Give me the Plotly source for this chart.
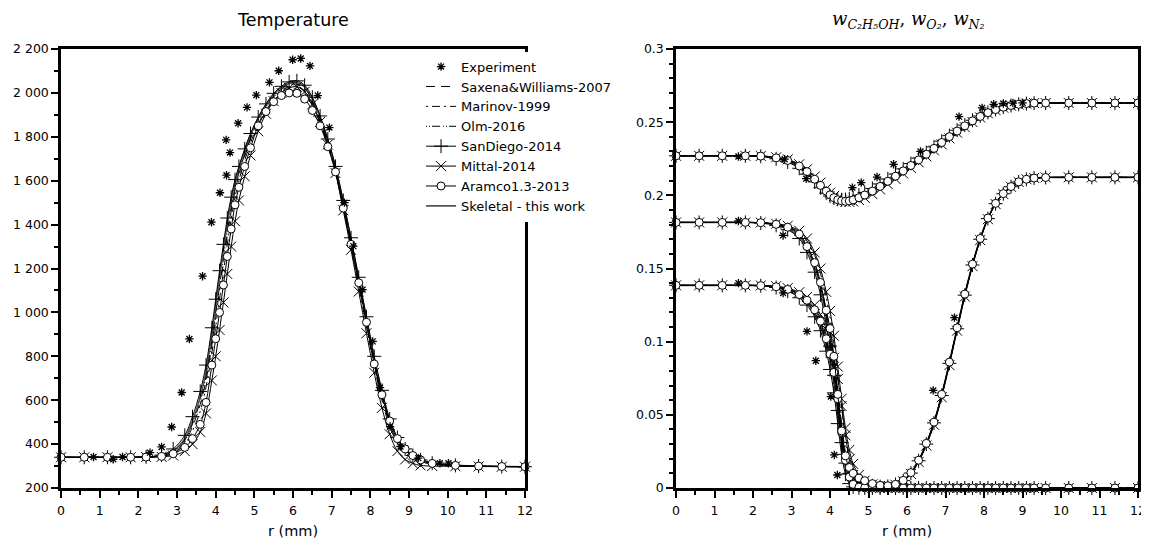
import plotly.graph_objects as go

# radial grid of the simulations (mm)
R = [0, 0.6, 1.2, 1.8, 2.2, 2.6, 2.9, 3.2, 3.4, 3.6,
     3.75, 3.9, 4.0, 4.1, 4.2, 4.3, 4.4, 4.5, 4.6, 4.75,
     4.9, 5.1, 5.3, 5.5, 5.7, 5.9, 6.1, 6.3, 6.5, 6.7,
     6.9, 7.1, 7.3, 7.5, 7.7, 7.9, 8.1, 8.3, 8.5, 8.7,
     8.9, 9.1, 9.3, 9.6, 10.2, 10.8, 11.4, 12]

# temperature (K)
T_saxena = [340, 340, 340, 340, 341, 346, 365, 410, 480, 580, 690, 850, 975, 1100, 1225, 1350, 1460, 1555, 1625, 1712,
            1790, 1872, 1935, 1985, 2018, 2037, 2040, 2020, 1965, 1882, 1778, 1652, 1492, 1320, 1140, 960, 780, 625, 500, 420,
            372, 344, 326, 311, 302, 300, 298, 297]
T_marinov = [340, 340, 340, 340, 341, 345, 360, 398, 460, 550, 660, 815, 935, 1060, 1185, 1310, 1425, 1525, 1600, 1692,
             1772, 1858, 1920, 1968, 1999, 2015, 2017, 1996, 1942, 1862, 1760, 1636, 1476, 1300, 1118, 935, 755, 600, 480, 405,
             362, 338, 322, 309, 301, 299, 298, 297]
T_olm = [340, 340, 340, 340, 341, 347, 368, 418, 492, 595, 710, 870, 995, 1120, 1245, 1368, 1475, 1565, 1635, 1720,
         1795, 1875, 1935, 1982, 2012, 2028, 2030, 2010, 1956, 1874, 1770, 1645, 1485, 1312, 1130, 948, 768, 612, 490, 412,
         367, 341, 324, 310, 302, 300, 298, 297]
T_sandiego = [340, 340, 340, 340, 342, 350, 378, 440, 525, 640, 760, 930, 1060, 1190, 1310, 1430, 1525, 1605, 1665, 1745,
              1815, 1890, 1950, 1998, 2030, 2050, 2055, 2035, 1980, 1895, 1790, 1665, 1510, 1340, 1160, 980, 800, 645, 515, 430,
              378, 348, 328, 313, 303, 300, 298, 297]
T_mittal = [340, 340, 340, 340, 341, 342, 348, 368, 400, 455, 540, 690, 800, 920, 1045, 1175, 1300, 1415, 1510, 1620,
            1715, 1825, 1905, 1962, 2000, 2022, 2028, 2005, 1948, 1868, 1765, 1635, 1465, 1285, 1095, 905, 725, 565, 445, 368,
            330, 312, 303, 300, 299, 298, 297, 297]
T_aramco = [340, 340, 340, 340, 341, 344, 356, 385, 425, 490, 590, 760, 880, 1000, 1125, 1255, 1380, 1490, 1570, 1665,
            1750, 1850, 1915, 1960, 1988, 2000, 1998, 1972, 1920, 1850, 1755, 1640, 1475, 1310, 1135, 955, 765, 625, 505, 425,
            378, 348, 328, 312, 303, 300, 298, 297]
T_skeletal = [340, 340, 340, 340, 341, 348, 370, 425, 505, 615, 730, 900, 1030, 1160, 1285, 1405, 1505, 1590, 1655, 1738,
              1808, 1885, 1945, 1993, 2025, 2043, 2047, 2027, 1973, 1890, 1785, 1660, 1500, 1330, 1150, 970, 790, 635, 508, 425,
              375, 346, 327, 312, 303, 300, 298, 297]

# ethanol mass fraction
F_saxena = [0.1385, 0.1385, 0.1385, 0.1385, 0.1383, 0.1373, 0.1352, 0.1315, 0.1272, 0.1200,
            0.1118, 0.0995, 0.0885, 0.0750, 0.0560, 0.0335, 0.0160, 0.0060, 0.0018, 0.0004,
            0, 0, 0, 0, 0, 0, 0, 0, 0, 0, 0, 0, 0, 0, 0, 0, 0, 0, 0, 0, 0, 0, 0, 0, 0, 0, 0, 0]
F_marinov = [0.1385, 0.1385, 0.1385, 0.1385, 0.1383, 0.1376, 0.1360, 0.1328, 0.1292, 0.1230,
             0.1158, 0.1048, 0.0950, 0.0830, 0.0655, 0.0440, 0.0240, 0.0105, 0.0038, 0.0009,
             0.0002, 0, 0, 0, 0, 0, 0, 0, 0, 0, 0, 0, 0, 0, 0, 0, 0, 0, 0, 0, 0, 0, 0, 0, 0, 0, 0, 0]
F_olm = [0.1385, 0.1385, 0.1385, 0.1385, 0.1383, 0.1374, 0.1355, 0.1318, 0.1277, 0.1208,
         0.1128, 0.1008, 0.0900, 0.0770, 0.0585, 0.0358, 0.0175, 0.0068, 0.0021, 0.0005,
         0.0001, 0, 0, 0, 0, 0, 0, 0, 0, 0, 0, 0, 0, 0, 0, 0, 0, 0, 0, 0, 0, 0, 0, 0, 0, 0, 0, 0]
F_sandiego = [0.1385, 0.1385, 0.1385, 0.1385, 0.1382, 0.1370, 0.1345, 0.1300, 0.1250, 0.1170,
              0.1075, 0.0935, 0.0810, 0.0650, 0.0440, 0.0230, 0.0095, 0.0030, 0.0008, 0.0001,
              0, 0, 0, 0, 0, 0, 0, 0, 0, 0, 0, 0, 0, 0, 0, 0, 0, 0, 0, 0, 0, 0, 0, 0, 0, 0, 0, 0]
F_mittal = [0.1385, 0.1385, 0.1385, 0.1385, 0.1384, 0.1379, 0.1366, 0.1338, 0.1305, 0.1250,
            0.1185, 0.1085, 0.0995, 0.0890, 0.0745, 0.0560, 0.0360, 0.0195, 0.0090, 0.0028,
            0.0008, 0.0002, 0, 0, 0, 0, 0, 0, 0, 0, 0, 0, 0, 0, 0, 0, 0, 0, 0, 0, 0, 0, 0, 0, 0, 0, 0, 0]
F_aramco = [0.1385, 0.1385, 0.1385, 0.1385, 0.1383, 0.1375, 0.1357, 0.1322, 0.1283, 0.1218,
            0.1140, 0.1020, 0.0915, 0.0790, 0.0610, 0.0380, 0.0190, 0.0075, 0.0025, 0.0006,
            0.0001, 0, 0, 0, 0, 0, 0, 0, 0, 0, 0, 0, 0, 0, 0, 0, 0, 0, 0, 0, 0, 0, 0, 0, 0, 0, 0, 0]
F_skeletal = [0.1385, 0.1385, 0.1385, 0.1385, 0.1383, 0.1372, 0.1350, 0.1310, 0.1265, 0.1190,
              0.1105, 0.0975, 0.0860, 0.0715, 0.0520, 0.0300, 0.0135, 0.0048, 0.0014, 0.0003,
              0, 0, 0, 0, 0, 0, 0, 0, 0, 0, 0, 0, 0, 0, 0, 0, 0, 0, 0, 0, 0, 0, 0, 0, 0, 0, 0, 0]

# O2 mass fraction
O_saxena = [0.1815, 0.1815, 0.1815, 0.1815, 0.1812, 0.1800, 0.1776, 0.1725, 0.1645, 0.1525,
            0.1385, 0.1195, 0.1055, 0.0865, 0.0640, 0.0405, 0.0230, 0.0140, 0.0088, 0.0052,
            0.0032, 0.0018, 0.0012, 0.0012, 0.0025, 0.0052, 0.0105, 0.0190, 0.0305, 0.0450,
            0.0638, 0.0858, 0.1094, 0.1324, 0.1529, 0.1704, 0.1844, 0.1945, 0.2012, 0.2060,
            0.2092, 0.2110, 0.2118, 0.2122, 0.2123, 0.2123, 0.2123, 0.2123]
O_marinov = [0.1815, 0.1815, 0.1815, 0.1815, 0.1813, 0.1804, 0.1787, 0.1748, 0.1688, 0.1590,
             0.1468, 0.1300, 0.1165, 0.0985, 0.0770, 0.0545, 0.0350, 0.0215, 0.0135, 0.0075,
             0.0042, 0.0022, 0.0013, 0.0012, 0.0024, 0.0049, 0.0100, 0.0183, 0.0296, 0.0440,
             0.0626, 0.0846, 0.1082, 0.1313, 0.1520, 0.1697, 0.1839, 0.1941, 0.2010, 0.2059,
             0.2091, 0.2110, 0.2118, 0.2122, 0.2123, 0.2123, 0.2123, 0.2123]
O_olm = [0.1815, 0.1815, 0.1815, 0.1815, 0.1812, 0.1801, 0.1779, 0.1730, 0.1655, 0.1538,
         0.1400, 0.1215, 0.1075, 0.0885, 0.0660, 0.0425, 0.0245, 0.0148, 0.0092, 0.0055,
         0.0034, 0.0019, 0.0012, 0.0012, 0.0025, 0.0052, 0.0105, 0.0190, 0.0305, 0.0450,
         0.0638, 0.0858, 0.1094, 0.1324, 0.1529, 0.1704, 0.1844, 0.1945, 0.2012, 0.2060,
         0.2092, 0.2110, 0.2118, 0.2122, 0.2123, 0.2123, 0.2123, 0.2123]
O_sandiego = [0.1815, 0.1815, 0.1815, 0.1815, 0.1811, 0.1795, 0.1765, 0.1705, 0.1610, 0.1475,
              0.1320, 0.1120, 0.0970, 0.0770, 0.0530, 0.0310, 0.0170, 0.0100, 0.0065, 0.0040,
              0.0026, 0.0015, 0.0010, 0.0011, 0.0024, 0.0050, 0.0102, 0.0186, 0.0300, 0.0445,
              0.0632, 0.0852, 0.1088, 0.1318, 0.1524, 0.1700, 0.1841, 0.1943, 0.2011, 0.2059,
              0.2091, 0.2109, 0.2118, 0.2122, 0.2123, 0.2123, 0.2123, 0.2123]
O_mittal = [0.1815, 0.1815, 0.1815, 0.1815, 0.1814, 0.1806, 0.1792, 0.1758, 0.1705, 0.1610,
            0.1500, 0.1340, 0.1210, 0.1040, 0.0830, 0.0610, 0.0410, 0.0260, 0.0165, 0.0090,
            0.0050, 0.0025, 0.0014, 0.0012, 0.0022, 0.0046, 0.0096, 0.0178, 0.0290, 0.0432,
            0.0620, 0.0840, 0.1075, 0.1308, 0.1516, 0.1694, 0.1837, 0.1940, 0.2009, 0.2058,
            0.2091, 0.2110, 0.2119, 0.2123, 0.2123, 0.2123, 0.2123, 0.2123]
O_aramco = [0.1815, 0.1815, 0.1815, 0.1815, 0.1813, 0.1802, 0.1782, 0.1735, 0.1650, 0.1540,
            0.1405, 0.1215, 0.1090, 0.0900, 0.0640, 0.0390, 0.0220, 0.0140, 0.0100, 0.0068,
            0.0050, 0.0030, 0.0018, 0.0015, 0.0025, 0.0052, 0.0105, 0.0190, 0.0305, 0.0450,
            0.0640, 0.0860, 0.1095, 0.1325, 0.1530, 0.1705, 0.1845, 0.1945, 0.2012, 0.2060,
            0.2092, 0.2110, 0.2118, 0.2122, 0.2123, 0.2123, 0.2123, 0.2123]
O_skeletal = [0.1815, 0.1815, 0.1815, 0.1815, 0.1812, 0.1798, 0.1772, 0.1718, 0.1635, 0.1510,
              0.1365, 0.1170, 0.1025, 0.0830, 0.0600, 0.0360, 0.0200, 0.0125, 0.0080, 0.0048,
              0.0030, 0.0017, 0.0011, 0.0012, 0.0025, 0.0051, 0.0104, 0.0188, 0.0303, 0.0448,
              0.0636, 0.0856, 0.1092, 0.1322, 0.1527, 0.1703, 0.1843, 0.1944, 0.2012, 0.2060,
              0.2092, 0.2110, 0.2118, 0.2122, 0.2123, 0.2123, 0.2123, 0.2123]

# N2 mass fraction
N_saxena = [0.2270, 0.2270, 0.2270, 0.2270, 0.2267, 0.2253, 0.2234, 0.2193, 0.2154, 0.2102,
            0.2061, 0.2022, 0.1999, 0.1982, 0.1970, 0.1964, 0.1963, 0.1967, 0.1975, 0.1990,
            0.2008, 0.2035, 0.2067, 0.2101, 0.2136, 0.2172, 0.2209, 0.2246, 0.2285, 0.2325,
            0.2364, 0.2403, 0.2441, 0.2477, 0.2510, 0.2540, 0.2566, 0.2586, 0.2602, 0.2614,
            0.2622, 0.2627, 0.2630, 0.2631, 0.2631, 0.2631, 0.2631, 0.2631]
N_marinov = [0.2270, 0.2270, 0.2270, 0.2270, 0.2268, 0.2258, 0.2242, 0.2206, 0.2170, 0.2120,
             0.2078, 0.2037, 0.2011, 0.1990, 0.1974, 0.1964, 0.1958, 0.1958, 0.1963, 0.1976,
             0.1993, 0.2019, 0.2051, 0.2086, 0.2122, 0.2158, 0.2196, 0.2235, 0.2274, 0.2314,
             0.2355, 0.2395, 0.2434, 0.2471, 0.2505, 0.2536, 0.2563, 0.2584, 0.2601, 0.2613,
             0.2622, 0.2627, 0.2630, 0.2631, 0.2631, 0.2631, 0.2631, 0.2631]
N_olm = [0.2270, 0.2270, 0.2270, 0.2270, 0.2268, 0.2255, 0.2236, 0.2196, 0.2158, 0.2106,
         0.2064, 0.2025, 0.2001, 0.1983, 0.1970, 0.1963, 0.1961, 0.1965, 0.1972, 0.1987,
         0.2005, 0.2032, 0.2064, 0.2099, 0.2134, 0.2170, 0.2207, 0.2245, 0.2284, 0.2323,
         0.2363, 0.2402, 0.2440, 0.2476, 0.2510, 0.2540, 0.2565, 0.2586, 0.2602, 0.2614,
         0.2622, 0.2627, 0.2630, 0.2631, 0.2631, 0.2631, 0.2631, 0.2631]
N_sandiego = [0.2270, 0.2270, 0.2270, 0.2270, 0.2267, 0.2250, 0.2228, 0.2185, 0.2145, 0.2092,
              0.2052, 0.2015, 0.1995, 0.1981, 0.1973, 0.1970, 0.1971, 0.1976, 0.1985, 0.2001,
              0.2020, 0.2047, 0.2078, 0.2112, 0.2146, 0.2181, 0.2217, 0.2254, 0.2292, 0.2331,
              0.2370, 0.2408, 0.2445, 0.2480, 0.2513, 0.2542, 0.2567, 0.2587, 0.2603, 0.2614,
              0.2622, 0.2627, 0.2630, 0.2631, 0.2631, 0.2631, 0.2631, 0.2631]
N_mittal = [0.2270, 0.2270, 0.2270, 0.2270, 0.2269, 0.2260, 0.2246, 0.2212, 0.2178, 0.2128,
            0.2087, 0.2045, 0.2018, 0.1995, 0.1977, 0.1964, 0.1957, 0.1955, 0.1958, 0.1968,
            0.1983, 0.2008, 0.2040, 0.2076, 0.2112, 0.2149, 0.2187, 0.2226, 0.2266, 0.2307,
            0.2348, 0.2389, 0.2428, 0.2466, 0.2501, 0.2532, 0.2560, 0.2582, 0.2599, 0.2612,
            0.2621, 0.2627, 0.2630, 0.2631, 0.2631, 0.2631, 0.2631, 0.2631]
N_aramco = [0.2270, 0.2270, 0.2270, 0.2270, 0.2268, 0.2256, 0.2238, 0.2200, 0.2162, 0.2110,
            0.2068, 0.2028, 0.2003, 0.1984, 0.1970, 0.1962, 0.1959, 0.1962, 0.1969, 0.1984,
            0.2002, 0.2029, 0.2061, 0.2096, 0.2131, 0.2167, 0.2204, 0.2242, 0.2281, 0.2321,
            0.2361, 0.2401, 0.2439, 0.2475, 0.2509, 0.2539, 0.2565, 0.2586, 0.2602, 0.2614,
            0.2622, 0.2627, 0.2630, 0.2631, 0.2631, 0.2631, 0.2631, 0.2631]
N_skeletal = [0.2270, 0.2270, 0.2270, 0.2270, 0.2267, 0.2252, 0.2232, 0.2190, 0.2150, 0.2098,
              0.2058, 0.2020, 0.1998, 0.1982, 0.1971, 0.1966, 0.1965, 0.1969, 0.1977, 0.1993,
              0.2011, 0.2038, 0.2070, 0.2104, 0.2139, 0.2174, 0.2211, 0.2248, 0.2287, 0.2326,
              0.2366, 0.2405, 0.2442, 0.2478, 0.2511, 0.2541, 0.2566, 0.2587, 0.2603, 0.2614,
              0.2622, 0.2627, 0.2630, 0.2631, 0.2631, 0.2631, 0.2631, 0.2631]

# experiment
exp_T_r = [0.84, 1.35, 1.59, 2.30, 2.60, 2.86, 3.12, 3.32, 3.66, 3.89,
           4.11, 4.27, 4.28, 4.37, 4.58, 4.81, 5.05, 5.39, 5.63, 5.99,
           6.20, 6.44, 6.64, 6.94, 7.33, 7.56, 7.80, 8.06, 8.25, 8.51,
           8.78, 9.24, 9.80, 10.02]
exp_T = [341, 331, 341, 361, 387, 478, 635, 879, 1165, 1411,
         1545, 1786, 1625, 1728, 1862, 1934, 1990, 2048, 2101, 2151,
         2157, 2123, 1988, 1842, 1500, 1302, 1104, 868, 657, 480,
         389, 336, 313, 313]
exp_N_r = [1.62, 2.82, 3.38, 4.58, 4.81, 5.22, 5.65, 6.35, 7.35, 7.95, 8.25, 8.5, 8.75, 9.0]
exp_N = [0.2265, 0.2247, 0.2114, 0.2053, 0.2087, 0.2125, 0.2212, 0.2300, 0.2538, 0.2598, 0.2622, 0.2628, 0.2630, 0.2632]
exp_O_r = [1.62, 2.78, 3.40, 3.63, 6.68, 7.23]
exp_O = [0.1825, 0.1726, 0.1070, 0.0870, 0.0667, 0.1164]
exp_F_r = [1.62, 2.78, 4.02, 4.11, 4.19]
exp_F = [0.1400, 0.1333, 0.0625, 0.0226, 0.0089]

models = ["Saxena&Williams-2007", "Marinov-1999", "Olm-2016", "SanDiego-2014",
          "Mittal-2014", "Aramco1.3-2013", "Skeletal - this work"]
T_all = [T_saxena, T_marinov, T_olm, T_sandiego, T_mittal, T_aramco, T_skeletal]
F_all = [F_saxena, F_marinov, F_olm, F_sandiego, F_mittal, F_aramco, F_skeletal]
O_all = [O_saxena, O_marinov, O_olm, O_sandiego, O_mittal, O_aramco, O_skeletal]
N_all = [N_saxena, N_marinov, N_olm, N_sandiego, N_mittal, N_aramco, N_skeletal]

styles = [
    dict(mode="lines", line=dict(color="black", width=1, dash="9px,6px")),
    dict(mode="lines", line=dict(color="black", width=1, dash="2px,4px,8px,4px")),
    dict(mode="lines", line=dict(color="black", width=1, dash="1px,2px,1px,2px,8px,3px")),
    dict(mode="lines+markers", line=dict(color="black", width=1),
         marker=dict(symbol="cross-thin", size=10, line=dict(color="black", width=1))),
    dict(mode="lines+markers", line=dict(color="black", width=1),
         marker=dict(symbol="x-thin", size=10, line=dict(color="black", width=1))),
    dict(mode="lines+markers", line=dict(color="black", width=1),
         marker=dict(symbol="circle", size=8, color="white", line=dict(color="black", width=1))),
    dict(mode="lines", line=dict(color="#555555", width=1.6)),
]
star = dict(symbol="asterisk", size=7, line=dict(color="black", width=1.3))

# skeletal drawn first so the black model curves sit on top of it
draw_order = [6, 0, 1, 2, 3, 4, 5]

fig = go.Figure()
for i in draw_order:
    name = models[i]
    st = styles[i]
    fig.add_trace(go.Scatter(x=R, y=T_all[i], name=name, legendrank=i + 2,
                             line_shape="spline", cliponaxis=False, xaxis="x", yaxis="y", **st))
    for arr in (F_all[i], O_all[i], N_all[i]):
        fig.add_trace(go.Scatter(x=R, y=arr, name=name, showlegend=False,
                                 line_shape="spline", cliponaxis=False, xaxis="x2", yaxis="y2", **st))

fig.add_trace(go.Scatter(x=exp_T_r, y=exp_T, name="Experiment", legendrank=1,
                         mode="markers", marker=star, cliponaxis=False, xaxis="x", yaxis="y"))
for xr, yv in ((exp_F_r, exp_F), (exp_O_r, exp_O), (exp_N_r, exp_N)):
    fig.add_trace(go.Scatter(x=xr, y=yv, name="Experiment", showlegend=False,
                             mode="markers", marker=star, cliponaxis=False, xaxis="x2", yaxis="y2"))

minor_style = dict(ticks="outside", ticklen=4, tickwidth=1.5, tickcolor="black")
axis_style = dict(showline=True, linecolor="black", linewidth=2.5, mirror=True,
                  ticks="outside", ticklen=7, tickwidth=1.5, tickcolor="black",
                  showgrid=False, zeroline=False, automargin=False,
                  tickfont=dict(family="DejaVu Sans", size=12.5, color="black"))
xaxis_style = dict(axis_style, range=[0, 12], dtick=1, ticklabelstandoff=2,
                   minor=dict(minor_style, dtick=0.5),
                   title=dict(text="r (mm)", font=dict(family="DejaVu Sans", size=14.5), standoff=10))

# the page body adds an 8 px margin, so the figure is 8 px smaller than the window
fig.update_layout(
    width=1141, height=533,
    margin=dict(l=0, r=0, t=41, b=53),
    paper_bgcolor="white", plot_bgcolor="white",
    font=dict(family="DejaVu Sans", color="black"),
    separators=". ",
    xaxis=dict(xaxis_style, domain=[0.0465, 0.4531], anchor="y"),
    yaxis=dict(axis_style, range=[200, 2200], dtick=200, separatethousands=True, anchor="x",
               minor=dict(minor_style, dtick=100)),
    xaxis2=dict(xaxis_style, domain=[0.5855, 0.9904], anchor="y2"),
    yaxis2=dict(axis_style, range=[0, 0.3], dtick=0.05, anchor="x2",
                minor=dict(minor_style, dtick=0.01)),
    legend=dict(x=0.3620, y=0.994, xanchor="left", yanchor="top", bgcolor="white",
                font=dict(family="DejaVu Sans", size=13), tracegroupgap=0),
    annotations=[
        dict(text="Temperature", x=0.2498, y=1.065, xref="paper", yref="paper",
             xanchor="center", yanchor="middle",
             showarrow=False, font=dict(family="DejaVu Sans", size=17.5)),
        dict(text="<i>w</i><sub><i>C₂H₅OH</i></sub>, <i>w</i><sub><i>O₂</i></sub>, <i>w</i><sub><i>N₂</i></sub>",
             x=0.7888, y=1.065, xref="paper", yref="paper",
             xanchor="center", yanchor="middle",
             showarrow=False, font=dict(family="DejaVu Serif", size=18)),
    ],
)

fig.write_html("out.html")
